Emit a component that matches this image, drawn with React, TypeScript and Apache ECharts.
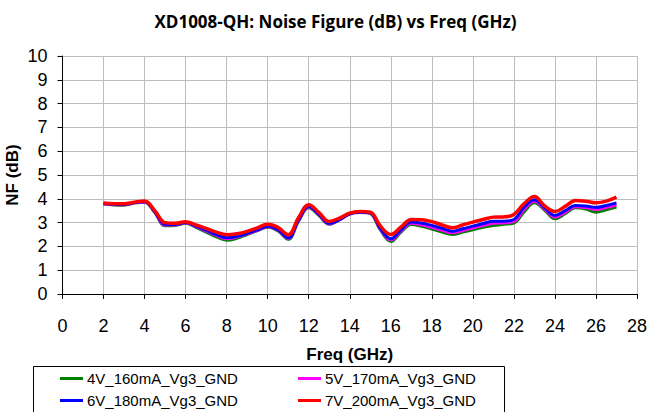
import React, { useEffect, useRef } from "react";
import * as echarts from "echarts";

const freq = [2, 2.5, 3, 3.5, 4, 4.5, 5, 5.5, 6, 6.5, 7, 7.5, 8, 8.5, 9, 9.5, 10, 10.5, 11, 11.5, 12, 12.5, 13, 13.5, 14, 14.5, 15, 15.5, 16, 16.5, 17, 17.5, 18, 18.5, 19, 19.5, 20, 20.5, 21, 21.5, 22, 22.5, 23, 23.5, 24, 24.5, 25, 25.5, 26, 26.5, 27];

const nf4V = [3.78, 3.74, 3.73, 3.82, 3.86, 3.42, 2.87, 2.88, 2.97, 2.8, 2.6, 2.4, 2.26, 2.34, 2.5, 2.66, 2.8, 2.65, 2.3, 3.05, 3.62, 3.3, 2.93, 3.12, 3.4, 3.45, 3.38, 2.68, 2.21, 2.6, 2.92, 2.85, 2.73, 2.6, 2.5, 2.6, 2.7, 2.8, 2.88, 2.93, 2.98, 3.45, 3.83, 3.52, 3.16, 3.37, 3.62, 3.57, 3.44, 3.54, 3.65];
const nf5V = [3.79, 3.76, 3.75, 3.83, 3.87, 3.44, 2.9, 2.9, 2.99, 2.83, 2.65, 2.46, 2.32, 2.39, 2.53, 2.68, 2.83, 2.68, 2.34, 3.08, 3.66, 3.33, 2.95, 3.12, 3.37, 3.43, 3.39, 2.72, 2.27, 2.65, 2.97, 2.91, 2.8, 2.68, 2.57, 2.67, 2.77, 2.88, 2.97, 2.99, 3.05, 3.55, 3.9, 3.57, 3.23, 3.43, 3.67, 3.63, 3.55, 3.63, 3.75];
const nf6V = [3.8, 3.77, 3.76, 3.84, 3.88, 3.45, 2.93, 2.92, 3.0, 2.85, 2.68, 2.5, 2.36, 2.42, 2.55, 2.7, 2.85, 2.7, 2.36, 3.1, 3.68, 3.35, 2.97, 3.12, 3.36, 3.42, 3.4, 2.75, 2.32, 2.7, 3.03, 2.98, 2.88, 2.76, 2.64, 2.74, 2.85, 2.96, 3.06, 3.06, 3.13, 3.65, 3.96, 3.62, 3.3, 3.5, 3.72, 3.7, 3.64, 3.72, 3.83];
const nf7V = [3.82, 3.79, 3.79, 3.86, 3.91, 3.5, 3.0, 2.97, 3.04, 2.9, 2.76, 2.6, 2.49, 2.53, 2.63, 2.78, 2.93, 2.8, 2.49, 3.2, 3.75, 3.42, 3.05, 3.19, 3.4, 3.47, 3.44, 2.85, 2.5, 2.82, 3.13, 3.12, 3.04, 2.9, 2.78, 2.9, 3.02, 3.13, 3.23, 3.24, 3.34, 3.8, 4.1, 3.7, 3.47, 3.68, 3.93, 3.9, 3.83, 3.9, 4.07];

const seriesNames = ["4V_160mA_Vg3_GND", "5V_170mA_Vg3_GND", "6V_180mA_Vg3_GND", "7V_200mA_Vg3_GND"];
const seriesColors = ["#008000", "#ff00ff", "#0000ff", "#ff0000"];
const seriesValues = [nf4V, nf5V, nf6V, nf7V];

const titleText = "XD1008-QH: Noise Figure (dB) vs Freq (GHz)";
const xName = "Freq (GHz)";
const yName = "NF (dB)";

const FONT = "'Liberation Sans', Arial, sans-serif";

export default function App() {
  const ref = useRef<HTMLDivElement>(null);
  useEffect(() => {
    if (!ref.current) return;
    const chart = echarts.init(ref.current, null, { renderer: "svg" });
    const legendPos = [
      { left: 60, top: 371 },
      { left: 298, top: 371 },
      { left: 60, top: 393 },
      { left: 298, top: 393 },
    ];
    chart.setOption({
      animation: false,
      backgroundColor: "#ffffff",
      grid: { left: 62.5, right: 14, top: 56, bottom: 118, containLabel: false, outerBoundsMode: "none" },
      graphic: [
        {
          type: "text",
          x: 335.5,
          y: 21,
          style: {
            text: titleText,
            fill: "#000",
            font: "bold 17px 'Open Sans', sans-serif",
            textAlign: "center",
            textVerticalAlign: "middle",
          },
        },
        {
          type: "rect",
          shape: { x: 33.5, y: 366.5, width: 471, height: 60 },
          style: { fill: "none", stroke: "#000", lineWidth: 1 },
          silent: true,
        },
      ],
      legend: seriesNames.map((n, i) => ({
        data: [n],
        left: legendPos[i].left,
        top: legendPos[i].top,
        icon: "rect",
        itemWidth: 23,
        itemHeight: 3,
        itemGap: 0,
        padding: 0,
        textStyle: { fontFamily: FONT, fontSize: 15, color: "#000", padding: [0, 0, 0, -1] },
      })),
      xAxis: {
        type: "value",
        min: 0,
        max: 28,
        interval: 2,
        name: xName,
        nameLocation: "middle",
        nameGap: 52,
        nameMoveOverlap: false,
        nameTextStyle: { fontFamily: FONT, fontSize: 17, fontWeight: "bold", color: "#000" },
        axisLine: { show: true, onZero: false, lineStyle: { color: "#000", width: 1 } },
        axisTick: { show: true, inside: false, length: 5, lineStyle: { color: "#000" } },
        axisLabel: { fontFamily: FONT, fontSize: 18, color: "#000", margin: 23 },
        splitLine: { show: true, lineStyle: { color: "#bdbdbd", width: 1 } },
      },
      yAxis: {
        type: "value",
        min: 0,
        max: 10,
        interval: 1,
        name: yName,
        nameLocation: "middle",
        nameGap: 42,
        nameMoveOverlap: false,
        nameRotate: 90,
        nameTextStyle: { fontFamily: FONT, fontSize: 17, fontWeight: "bold", color: "#000" },
        axisLine: { show: true, lineStyle: { color: "#000", width: 1 } },
        axisTick: { show: true, inside: false, length: 5, lineStyle: { color: "#000" } },
        axisLabel: { fontFamily: FONT, fontSize: 18, color: "#000", margin: 15 },
        splitLine: { show: true, lineStyle: { color: "#bdbdbd", width: 1 } },
      },
      series: seriesNames.map((n, i) => ({
        name: n,
        type: "line",
        data: freq.map((f, j) => [f, seriesValues[i][j]]),
        smooth: 0.4,
        showSymbol: false,
        symbol: "none",
        color: seriesColors[i],
        lineStyle: { color: seriesColors[i], width: i === 3 ? 3.5 : 3 },
        z: 2 + i,
      })),
    });
    return () => chart.dispose();
  }, []);
  return <div ref={ref} style={{ width: 651, height: 412, position: "absolute", left: 0, top: 0 }} />;
}
